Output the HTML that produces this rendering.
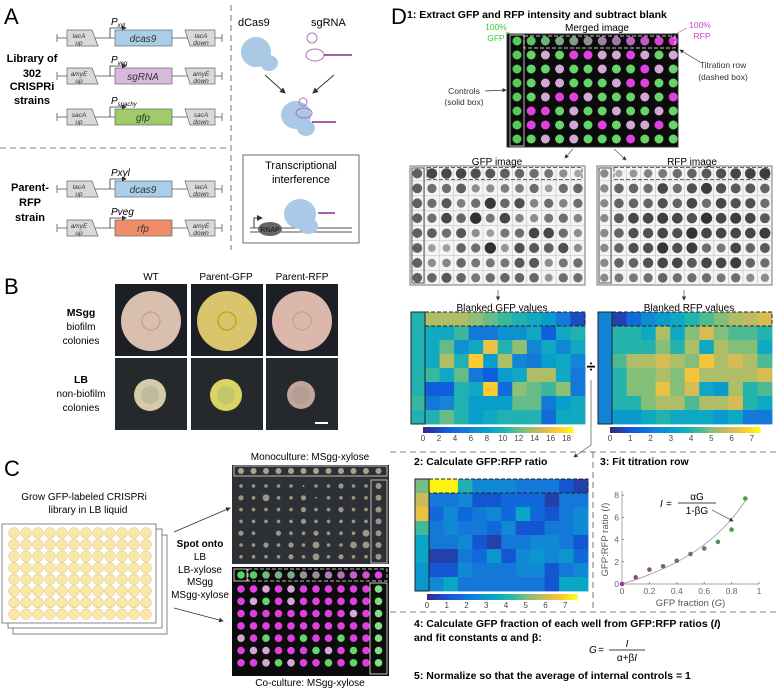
<!DOCTYPE html>
<html><head><meta charset="utf-8">
<style>
html,body{margin:0;padding:0;background:#fff;}
svg{display:block;font-family:"Liberation Sans",Arial,sans-serif;}
.b{font-weight:bold}
.i{font-style:italic}
</style></head>
<body>
<svg id="fig" width="777" height="690" viewBox="0 0 777 690" xmlns="http://www.w3.org/2000/svg">
<defs>
<marker id="ah" markerWidth="6" markerHeight="6" refX="5" refY="3" orient="auto"><path d="M0,0 L6,3 L0,6 z" fill="#333"/></marker>
</defs>
<!-- Panel A -->
<g>
<text x="4" y="24" font-size="22">A</text>
<g id="genes"></g>
<text x="32" y="62" font-size="11" class="b" text-anchor="middle">Library of</text>
<text x="32" y="77" font-size="11" class="b" text-anchor="middle">302</text>
<text x="32" y="90" font-size="11" class="b" text-anchor="middle">CRISPRi</text>
<text x="32" y="104" font-size="11" class="b" text-anchor="middle">strains</text>
<text x="30" y="191" font-size="11" class="b" text-anchor="middle">Parent-</text>
<text x="30" y="206" font-size="11" class="b" text-anchor="middle">RFP</text>
<text x="30" y="221" font-size="11" class="b" text-anchor="middle">strain</text>
<line x1="0" y1="148" x2="230" y2="148" stroke="#555" stroke-dasharray="6,4" stroke-width="0.8"/>
<line x1="231" y1="5" x2="231" y2="250" stroke="#555" stroke-dasharray="6,4" stroke-width="0.8"/>
<text x="238" y="26" font-size="11">dCas9</text>
<text x="311" y="26" font-size="11">sgRNA</text>
<g fill="#a9c9e6">
<ellipse cx="256" cy="52" rx="15" ry="15"/><ellipse cx="269" cy="63" rx="9" ry="8"/>
</g>
<g fill="none" stroke="#b070c0" stroke-width="1">
<ellipse cx="315" cy="55" rx="9" ry="6"/><ellipse cx="312" cy="38" rx="5" ry="5"/><line x1="324" y1="55" x2="352" y2="55" stroke="#8a2a8a" stroke-width="1.5"/>
</g>
<line x1="265" y1="75" x2="285" y2="93" stroke="#333" marker-end="url(#ah)"/>
<line x1="334" y1="75" x2="313" y2="93" stroke="#333" marker-end="url(#ah)"/>
<g>
<ellipse cx="296" cy="115" rx="15" ry="14" fill="#a9c9e6"/><ellipse cx="306" cy="128" rx="9" ry="8" fill="#a9c9e6"/>
<ellipse cx="304" cy="113" rx="8" ry="5" fill="none" stroke="#b070c0"/><ellipse cx="303" cy="102" rx="4" ry="4" fill="none" stroke="#b070c0"/>
<line x1="312" y1="122" x2="336" y2="122" stroke="#8a2a8a" stroke-width="1.5"/>
</g>
<rect x="243" y="155" width="116" height="88" fill="#fff" stroke="#444" stroke-width="0.8"/>
<text x="301" y="169" font-size="11" text-anchor="middle">Transcriptional</text>
<text x="301" y="183" font-size="11" text-anchor="middle">interference</text>
<line x1="250" y1="228" x2="352" y2="228" stroke="#555"/><line x1="250" y1="232" x2="352" y2="232" stroke="#555"/>
<ellipse cx="270" cy="229" rx="12" ry="7" fill="#666"/><text x="270" y="232" font-size="7" text-anchor="middle" fill="#111">RNAP</text>
<ellipse cx="300" cy="214" rx="16" ry="15" fill="#a9c9e6"/><ellipse cx="308" cy="226" rx="10" ry="8" fill="#a9c9e6"/>
<line x1="318" y1="213" x2="335" y2="213" stroke="#8a2a8a" stroke-width="1.5"/>
<path d="M254,228 v-10 h8" fill="none" stroke="#333" marker-end="url(#ah)"/>
</g>
<!-- Panel B -->
<g>
<text x="4" y="294" font-size="22">B</text>
<text x="151" y="280" font-size="10" text-anchor="middle">WT</text>
<text x="226" y="280" font-size="10" text-anchor="middle">Parent-GFP</text>
<text x="302" y="280" font-size="10" text-anchor="middle">Parent-RFP</text>
<text x="81" y="316" font-size="10.5" class="b" text-anchor="middle">MSgg</text>
<text x="81" y="330" font-size="10" text-anchor="middle">biofilm</text>
<text x="81" y="344" font-size="10" text-anchor="middle">colonies</text>
<text x="81" y="383" font-size="10.5" class="b" text-anchor="middle">LB</text>
<text x="81" y="397" font-size="10" text-anchor="middle">non-biofilm</text>
<text x="81" y="411" font-size="10" text-anchor="middle">colonies</text>
<g id="photos"></g>
</g>
<!-- Panel C -->
<g>
<text x="4" y="476" font-size="22">C</text>
<text x="84" y="500" font-size="10" text-anchor="middle">Grow GFP-labeled CRISPRi</text>
<text x="88" y="513" font-size="10" text-anchor="middle">library in LB liquid</text>
<g id="plates"></g>
<text x="200" y="547" font-size="10" class="b" text-anchor="middle">Spot onto</text>
<text x="200" y="560" font-size="10" text-anchor="middle">LB</text>
<text x="200" y="573" font-size="10" text-anchor="middle">LB-xylose</text>
<text x="200" y="585" font-size="10" text-anchor="middle">MSgg</text>
<text x="200" y="598" font-size="10" text-anchor="middle">MSgg-xylose</text>
<line x1="174" y1="532" x2="230" y2="508" stroke="#333" stroke-width="0.8" marker-end="url(#ah)"/>
<line x1="174" y1="608" x2="223" y2="621" stroke="#333" stroke-width="0.8" marker-end="url(#ah)"/>
<text x="310" y="460" font-size="10" text-anchor="middle">Monoculture: MSgg-xylose</text>
<text x="310" y="686" font-size="10" text-anchor="middle">Co-culture: MSgg-xylose</text>
<g id="cplates"></g>
</g>
<!-- Panel D -->
<g>
<text x="391" y="24" font-size="22">D</text>
<text x="407" y="18" font-size="10.5" class="b">1: Extract GFP and RFP intensity and subtract blank</text>
<text x="597" y="31" font-size="10" text-anchor="middle">Merged image</text>
<text x="496" y="30" font-size="8.5" fill="#3c3" text-anchor="middle">100%</text>
<text x="496" y="41" font-size="8.5" fill="#3c3" text-anchor="middle">GFP</text>
<text x="700" y="28" font-size="8.5" fill="#c4c" text-anchor="middle">100%</text>
<text x="702" y="39" font-size="8.5" fill="#c4c" text-anchor="middle">RFP</text>
<text x="723" y="68" font-size="8.5" fill="#333" text-anchor="middle">Titration row</text>
<text x="723" y="80" font-size="8.5" fill="#333" text-anchor="middle">(dashed box)</text>
<text x="464" y="94" font-size="8.5" fill="#333" text-anchor="middle">Controls</text>
<text x="464" y="105" font-size="8.5" fill="#333" text-anchor="middle">(solid box)</text>
<line x1="485" y1="91" x2="506" y2="90" stroke="#333" stroke-width="0.7" marker-end="url(#ah)"/>
<line x1="700" y1="62" x2="680" y2="50" stroke="#333" stroke-width="0.7" marker-end="url(#ah)"/>
<line x1="506" y1="32" x2="522" y2="38" stroke="#3c3" stroke-width="0.7" marker-end="url(#ah)"/>
<line x1="687" y1="28" x2="672" y2="36" stroke="#c4c" stroke-width="0.7" marker-end="url(#ah)"/>
<g id="dimg"></g>
<line x1="573" y1="149" x2="565" y2="158" stroke="#555" stroke-width="0.7" marker-end="url(#ah)"/>
<line x1="614" y1="149" x2="626" y2="160" stroke="#555" stroke-width="0.7" marker-end="url(#ah)"/>
<text x="497" y="165" font-size="10" text-anchor="middle">GFP image</text>
<text x="692" y="165" font-size="10" text-anchor="middle">RFP image</text>
<line x1="498" y1="290" x2="498" y2="300" stroke="#555" stroke-width="0.7" marker-end="url(#ah)"/>
<line x1="684" y1="290" x2="684" y2="300" stroke="#555" stroke-width="0.7" marker-end="url(#ah)"/>
<text x="502" y="311" font-size="10" text-anchor="middle">Blanked GFP values</text>
<text x="689" y="311" font-size="10" text-anchor="middle">Blanked RFP values</text>
<text x="591" y="372" font-size="16" class="b" text-anchor="middle">÷</text>
<line x1="591" y1="380" x2="591" y2="445" stroke="#555" stroke-width="0.7"/>
<line x1="591" y1="445" x2="574" y2="457" stroke="#555" stroke-width="0.7" marker-end="url(#ah)"/>
<g id="heat"></g>
<line x1="390" y1="452" x2="777" y2="452" stroke="#555" stroke-dasharray="6,4" stroke-width="0.8"/>
<line x1="593" y1="452" x2="593" y2="612" stroke="#555" stroke-dasharray="6,4" stroke-width="0.8"/>
<text x="414" y="465" font-size="10.5" class="b">2: Calculate GFP:RFP ratio</text>
<text x="600" y="465" font-size="10.5" class="b">3: Fit titration row</text>
<g id="plot"></g>
<line x1="390" y1="612" x2="777" y2="612" stroke="#555" stroke-dasharray="6,4" stroke-width="0.8"/>
<text x="414" y="627" font-size="10.5" class="b">4: Calculate GFP fraction of each well from GFP:RFP ratios (<tspan class="i">I</tspan>)</text>
<text x="414" y="641" font-size="10.5" class="b">and fit constants α and β:</text>
<text x="589" y="653" font-size="10" class="i">G</text><text x="598" y="653" font-size="10">=</text>
<text x="627" y="647" font-size="10" class="i" text-anchor="middle">I</text>
<line x1="609" y1="650" x2="645" y2="650" stroke="#000" stroke-width="0.7"/>
<text x="627" y="661" font-size="10" text-anchor="middle">α+β<tspan class="i">I</tspan></text>
<text x="414" y="679" font-size="10.5" class="b">5: Normalize so that the average of internal controls = 1</text>
</g>
</svg>
<script>
// ---- chart data (titration fit) ----
const gfpFraction = [0,0.1,0.2,0.3,0.4,0.5,0.6,0.7,0.8,0.9];
const ratioValues = [0,0.6,1.3,1.6,2.1,2.7,3.2,3.8,4.9,7.7];
const xTicks = [0,0.2,0.4,0.6,0.8,1];
const yTicks = [0,2,4,6,8];
const fitAlpha = 3.75, fitBeta = 0.611;
// ---- heatmap data ----
const gfpHeat = [
[14,14,14,13,12,11,10,9,8,5,2],[9,9,11,5,5,7,7,9,3,9,10],[9,12,7,9,16,10,13,6,9,6,9],
[9,14,10,17,8,14,6,5,8,9,6],[11,9,12,5,3,8,9,14,14,9,5],[3,3,10,9,17,4,13,12,11,13,5],
[5,6,10,8,8,8,12,12,5,8,9],[10,12,10,8,9,10,10,10,4,9,9]];
const gfpCtrl = [10,10,10,10,10,10,11,10];
const rfpHeat = [
[0.5,1.5,2.5,3,3.5,4,4.5,5,5.5,5.7,6],[4,4,3.5,5.5,3.5,5,6,5,4.5,4.5,4],[4,4,4,5,4,5.5,3.5,5.5,5,5,3.5],
[4.5,5.5,5.5,6,5.5,5,6.5,5.5,6,5.5,4.5],[4,5,5,5.5,5,6.5,5.5,5.5,5.5,5.5,6],[4,5,5,6.3,5,6,3.5,3,5.5,4,4.5],
[4,4,5,5.5,5.5,4.5,5.5,5.5,6,4,3.5],[3,3,3.5,4,3.5,3.5,3.5,3,3.5,2,2]];
const rfpCtrl = [2.3,2.3,2.3,2.3,2.3,2.3,2.3,2.3];
const ratioHeat = [
[7.5,7.5,4,2.5,2.5,2.5,2,2,2,1,0.5],[2,2,2.5,1,1,1.5,1.5,1.5,0.5,2,2],[1.5,2.5,1.5,2,2.5,1.5,3.5,1.5,1,2,2.5],
[2,2.5,2,2,1.5,2.5,1,1,2,2,2.5],[2,2,2.5,1,0.5,2,2,2.5,2.5,2,1],[0.5,0.5,2,1.5,3,1,2.5,3,2.5,3,1.5],
[1,1,2.5,2,2,2,2.5,2.5,1,2,2.5],[2.5,3.5,2,2,2,2,2,2,1,3.5,3.5]];
const ratioCtrl = [5,6,6.5,4.5,3.5,3.5,3,3];
const gfpTickLabels = ["0","2","4","6","8","10","12","14","16","18"];
const rfpTickLabels = ["0","1","2","3","4","5","6","7"];
// image spot patterns (g=green, p=pale pink, m=magenta)
const coPattern = ["mmpmpmmmmmm","mpgmpmmmmmm","mmmmmmmmmpm","mmmmmmmmmmm","pmgmmgmmgmm","mppmmmgpmgm","mmpgpmmgmgm"];
const mergedPattern = ["gpgmmppmpgp","ggpggpggmpg","gppgggpmmgg","gpmmpgggpgm","mmgpggpggpg","mmgpgmgppmg","gpgpgggmggg"];
const monoSizes = ["11111011211","21311201111","11111211211","11111211111","21421121113","11212131133","11112131211"];

const NS="http://www.w3.org/2000/svg";
function mk(tag,attrs,parent){const e=document.createElementNS(NS,tag);for(const k in attrs)e.setAttribute(k,attrs[k]);parent.appendChild(e);return e;}
function txt(s,attrs,parent){const e=mk('text',attrs,parent);e.textContent=s;return e;}
const stops=[[0,[53,42,135]],[0.15,[15,92,221]],[0.3,[20,129,214]],[0.45,[6,164,202]],[0.57,[46,183,164]],[0.68,[135,191,119]],[0.8,[209,187,89]],[0.9,[254,200,50]],[1,[249,251,14]]];
function parula(t){t=Math.max(0,Math.min(1,t));for(let i=1;i<stops.length;i++){if(t<=stops[i][0]){const a=stops[i-1],b=stops[i],f=(t-a[0])/(b[0]-a[0]);const c=a[1].map((v,j)=>Math.round(v+(b[1][j]-v)*f));return `rgb(${c})`;}}return 'rgb(249,251,14)';}
const spotCol={g:'#66d466',p:'#d4a8d4',m:'#e040e0'};

// ---- Panel A genes ----
const genes=document.getElementById('genes');
const rows=[[38,'lacA','dcas9','#a9cfe8','P','xyl'],[76,'amyE','sgRNA','#d7b9dc','P','veg'],[117,'sacA','gfp','#9fcb6b','P','spachy'],[189,'lacA','dcas9','#a9cfe8','Pxyl',''],[228,'amyE','rfp','#ef8d6b','Pveg','']];
rows.forEach((r,k)=>{
 const [y,loc,g,col,p,sub]=r;
 const grp=mk('g',{},genes);
 
 
 mk('line',{x1:57,y1:y,x2:222,y2:y,stroke:'#777','stroke-width':1},grp);
 mk('line',{x1:57,y1:y-4,x2:57,y2:y+4,stroke:'#777'},grp);mk('line',{x1:222,y1:y-4,x2:222,y2:y+4,stroke:'#777'},grp);
 mk('polygon',{points:`67,${y-8} 92,${y-8} 98,${y+8} 67,${y+8}`,fill:'#d9d9d9',stroke:'#666','stroke-width':0.7},grp);
 txt(loc,{x:79,y:y,'font-size':6.5,'text-anchor':'middle','font-style':'italic',fill:'#333'},grp);
 txt('up',{x:79,y:y+7,'font-size':6.5,'text-anchor':'middle','font-style':'italic',fill:'#333'},grp);
 mk('polygon',{points:`185,${y-8} 215,${y-8} 215,${y+8} 190,${y+8}`,fill:'#d9d9d9',stroke:'#666','stroke-width':0.7},grp);
 txt(loc,{x:201,y:y,'font-size':6.5,'text-anchor':'middle','font-style':'italic',fill:'#333'},grp);
 txt('down',{x:201,y:y+7,'font-size':6.5,'text-anchor':'middle','font-style':'italic',fill:'#333'},grp);
 mk('rect',{x:115,y:y-8,width:57,height:16,fill:col,stroke:'#666','stroke-width':0.7},grp);
 txt(g,{x:143,y:y+4,'font-size':10,'text-anchor':'middle','font-style':'italic',fill:'#333'},grp);
 mk('path',{d:`M110,${y} v-10 h16`,fill:'none',stroke:'#333','stroke-width':0.8,'marker-end':'url(#ah)'},grp);
 const t=txt(p,{x:111,y:y-13,'font-size':10,'font-style':'italic'},grp);
 if(sub){const ts=mk('tspan',{'font-size':6,dy:2},t);ts.textContent=sub;}
});

// ---- Panel B photos ----
const photos=document.getElementById('photos');
const pc=[['#d9bfae','#d6cba8','#b8b29a'],['#d8c56e','#d9d463','#b8c070'],['#dcb8ac','#bfa59a','#b19a90']];
const px=[115,191,266];
for(let c=0;c<3;c++)for(let r=0;r<2;r++){
 const x=px[c],y=r?358:284;
 const g=mk('g',{},photos);
 
 
 mk('rect',{x:x,y:y,width:72,height:72,fill:r?'#26292c':'#1c2026'},g);
 if(!r){mk('circle',{cx:x+36,cy:y+37,r:30,fill:pc[c][0]},g);mk('circle',{cx:x+36,cy:y+37,r:9,fill:'none',stroke:c==1?'#c9a51a':'#cfa090','stroke-width':1.5},g);}
 else{mk('circle',{cx:x+35,cy:y+37,r:c==2?14:16,fill:pc[c][1]},g);mk('circle',{cx:x+35,cy:y+37,r:9,fill:pc[c][2],opacity:0.7},g);}
}
mk('rect',{x:315,y:422,width:13,height:2,fill:'#fff'},photos);

// ---- Panel C plates ----
const plates=document.getElementById('plates');
[[13,14],[8,8],[2,3]].forEach((o,k)=>{
 const g=mk('g',{},plates);
 
 
 mk('rect',{x:o[0],y:521+o[1],width:154,height:99,fill:'#fff',stroke:'#666','stroke-width':0.8},g);
 if(k==2)for(let i=0;i<12;i++)for(let j=0;j<8;j++)mk('circle',{cx:o[0]+12+i*12,cy:521+o[1]+9+j*11.6,r:5.3,fill:'#fbe8a6',stroke:'#cdbb7d','stroke-width':0.5},g);
});
const cp=document.getElementById('cplates');
{const g=mk('g',{},cp);
 
 
 mk('rect',{x:232,y:465,width:157,height:99,fill:'#2d3136'},g);
 mk('rect',{x:234,y:466,width:153,height:10,fill:'none',stroke:'#ddd','stroke-width':0.8},g);
 mk('rect',{x:371,y:480,width:16,height:83,fill:'none',stroke:'#ddd','stroke-width':0.8},g);
 for(let i=0;i<12;i++){
  mk('circle',{cx:241+i*12.5,cy:471,r:3,fill:'#a9a38e'},g);
  for(let j=0;j<7;j++){
   const r=i==11?3:[1,1.8,2.6,3.4][+monoSizes[j][i]];
   mk('circle',{cx:241+i*12.5,cy:486+j*11.8,r:r,fill:'#a9a38e',opacity:0.9},g);
  }
 }}
{const g=mk('g',{},cp);
 
 
 mk('rect',{x:232,y:567,width:157,height:109,fill:'#0b0b0b'},g);
 for(let i=0;i<12;i++){
  const f=i/11;
  mk('circle',{cx:241+i*12.5,cy:575,r:3.8,fill:`rgb(${Math.round(80+140*f)},${Math.round(220-150*f)},${Math.round(90+130*f)})`},g);
  for(let j=0;j<7;j++){
   const col=i==11?'#7fe07f':spotCol[coPattern[j][i]];
   mk('circle',{cx:241+i*12.5,cy:589+j*12.3,r:3.8,fill:col},g);
  }
 }
 mk('rect',{x:234,y:569,width:13,height:12,fill:'none',stroke:'#eee','stroke-width':0.8},g);
 mk('rect',{x:248,y:569,width:139,height:12,fill:'none',stroke:'#eee','stroke-width':0.8,'stroke-dasharray':'4,2'},g);
 mk('rect',{x:370,y:583,width:17,height:91,fill:'none',stroke:'#eee','stroke-width':0.8},g);}

// ---- Panel D images ----
const dimg=document.getElementById('dimg');
{const g=mk('g',{},dimg);
 
 
 mk('rect',{x:507,y:34,width:171,height:113,fill:'#0b0b0b',stroke:'#333'},g);
 for(let i=0;i<12;i++)for(let j=0;j<8;j++){
  let col;
  if(j==0){const f=i/11;col=`rgb(${Math.round(80+140*f)},${Math.round(210-150*f)},${Math.round(90+130*f)})`;}
  else if(i==0)col='#58c858';
  else col=spotCol[mergedPattern[j-1][i-1]];
  mk('circle',{cx:517+i*14.2,cy:41+j*14,r:4.5,fill:col},g);
 }
 mk('rect',{x:510,y:35,width:14,height:111,fill:'none',stroke:'#ddd','stroke-width':0.8},g);
 mk('rect',{x:524,y:36,width:151,height:12,fill:'none',stroke:'#fff','stroke-width':0.8,'stroke-dasharray':'4,2'},g);
}
[[410,'gfp'],[597,'rfp']].forEach(([x0,nm])=>{
 const g=mk('g',{},dimg);
 
 
 mk('rect',{x:x0,y:166,width:175,height:119,fill:'#f4f4f4',stroke:'#777'},g);
 for(let i=1;i<12;i++)mk('line',{x1:x0+i*14.6,y1:166,x2:x0+i*14.6,y2:285,stroke:'#bbb','stroke-width':0.5},g);
 for(let j=1;j<8;j++)mk('line',{x1:x0,y1:166+j*14.9,x2:x0+175,y2:166+j*14.9,stroke:'#bbb','stroke-width':0.5},g);
 for(let i=0;i<12;i++)for(let j=0;j<8;j++){
  const v=nm=='gfp'?(i==0?0.6:gfpHeat[j][i-1]/18):(i==0?0.3:rfpHeat[j][i-1]/7);
  const gr=Math.round(180-140*v);
  mk('circle',{cx:x0+7.3+i*14.6,cy:173.5+j*14.9,r:3.5+2.3*v,fill:`rgb(${gr},${gr},${gr})`},g);
 }
 mk('rect',{x:x0+2,y:168,width:12,height:115,fill:'none',stroke:'#333','stroke-width':0.8},g);
 mk('rect',{x:x0+17,y:167.5,width:155,height:12,fill:'none',stroke:'#333','stroke-width':0.8,'stroke-dasharray':'4,2'},g);
});

// ---- heatmaps ----
const heat=document.getElementById('heat');
function heatmap(x0,y0,w,h,data,ctrl,vmax,nm,ticks,cbx,cby){
 const g=mk('g',{},heat);
 
 
 const cw=(w-14)/11,ch=h/8;
 data.forEach((row,j)=>row.forEach((v,i)=>{
  const c=mk('rect',{x:x0+14+i*cw,y:y0+j*ch,width:cw+0.4,height:ch+0.4,fill:parula(v/vmax)},g);
  
  
 }));
 ctrl.forEach((v,j)=>{mk('rect',{x:x0,y:y0+j*ch,width:14,height:ch+0.4,fill:parula(v/vmax)},g);});
 mk('rect',{x:x0,y:y0,width:14,height:h,fill:'none',stroke:'#222','stroke-width':1},g);
 mk('rect',{x:x0+14,y:y0,width:w-14,height:ch,fill:'none',stroke:'#222','stroke-width':1,'stroke-dasharray':'4,2'},g);
 const cb=mk('g',{},g);
 
 
 const cbw=150;
 for(let k=0;k<60;k++)mk('rect',{x:cbx+k*cbw/60,y:cby,width:cbw/60+0.5,height:6,fill:parula(k/59)},cb);
 ticks.forEach(t=>{const tx=cbx+parseFloat(t)/vmax*cbw;txt(t,{x:tx,y:cby+14,'font-size':8,'text-anchor':'middle',fill:'#444'},cb);});
}
heatmap(411,312,174,112,gfpHeat,gfpCtrl,18.8,'gfp',gfpTickLabels,423,427);
heatmap(598,312,174,112,rfpHeat,rfpCtrl,7.4,'rfp',rfpTickLabels,610,427);
heatmap(415,479,173,112,ratioHeat,ratioCtrl,7.6,'ratio',rfpTickLabels,427,594);

// ---- titration plot ----
const plot=document.getElementById('plot');
const X=g=>622+g*137, Y=v=>584-v*11.1;
mk('line',{x1:X(0),y1:Y(0),x2:X(1),y2:Y(0),stroke:'#888','stroke-width':0.7},plot);
mk('line',{x1:X(0),y1:Y(0),x2:X(0),y2:Y(8.4),stroke:'#888','stroke-width':0.7},plot);
xTicks.forEach(t=>{mk('line',{x1:X(t),y1:Y(0),x2:X(t),y2:Y(0)-2,stroke:'#888'},plot);txt(String(t),{x:X(t),y:Y(0)+10,'font-size':8.5,'text-anchor':'middle',fill:'#666'},plot);});
yTicks.forEach(t=>{mk('line',{x1:X(0),y1:Y(t),x2:X(0)+2,y2:Y(t),stroke:'#888'},plot);txt(String(t),{x:X(0)-3,y:Y(t)+3,'font-size':8.5,'text-anchor':'end',fill:'#666'},plot);});
const xl=txt('GFP fraction (',{x:X(0.5),y:Y(0)+22,'font-size':9.5,'text-anchor':'middle',fill:'#555'},plot);
{const s=mk('tspan',{'font-style':'italic'},xl);s.textContent='G';const s2=mk('tspan',{},xl);s2.textContent=')';}
const yl=txt('GFP:RFP ratio (',{x:0,y:0,'font-size':9.5,'text-anchor':'middle',fill:'#555',transform:`translate(${X(0)-14},${Y(4)}) rotate(-90)`},plot);
{const s=mk('tspan',{'font-style':'italic'},yl);s.textContent='I';const s2=mk('tspan',{},yl);s2.textContent=')';}
let d='';for(let k=0;k<=45;k++){const g=k*0.02;const v=fitAlpha*g/(1-fitBeta*g);d+=(k?'L':'M')+X(g).toFixed(1)+','+Y(v).toFixed(1);}
const fit=mk('path',{d:d,fill:'none',stroke:'#aaa','stroke-width':1},plot);


gfpFraction.forEach((g,k)=>{
 const f=k/(gfpFraction.length-1);
 const p=mk('circle',{cx:X(g),cy:Y(ratioValues[k]),r:2.3,fill:`rgb(${Math.round(150-80*f)},${Math.round(60+100*f)},${Math.round(150-80*f)})`},plot);
 
 
});
txt('I',{x:660,y:507,'font-size':10,'font-style':'italic'},plot);
txt('=',{x:666,y:507,'font-size':10},plot);
txt('αG',{x:697,y:500,'font-size':10,'text-anchor':'middle'},plot);
mk('line',{x1:678,y1:503,x2:716,y2:503,stroke:'#000','stroke-width':0.7},plot);
txt('1-βG',{x:697,y:514,'font-size':10,'text-anchor':'middle'},plot);
mk('line',{x1:712,y1:510,x2:733,y2:521,stroke:'#333','stroke-width':0.7,'marker-end':'url(#ah)'},plot);
</script>
</body></html>
